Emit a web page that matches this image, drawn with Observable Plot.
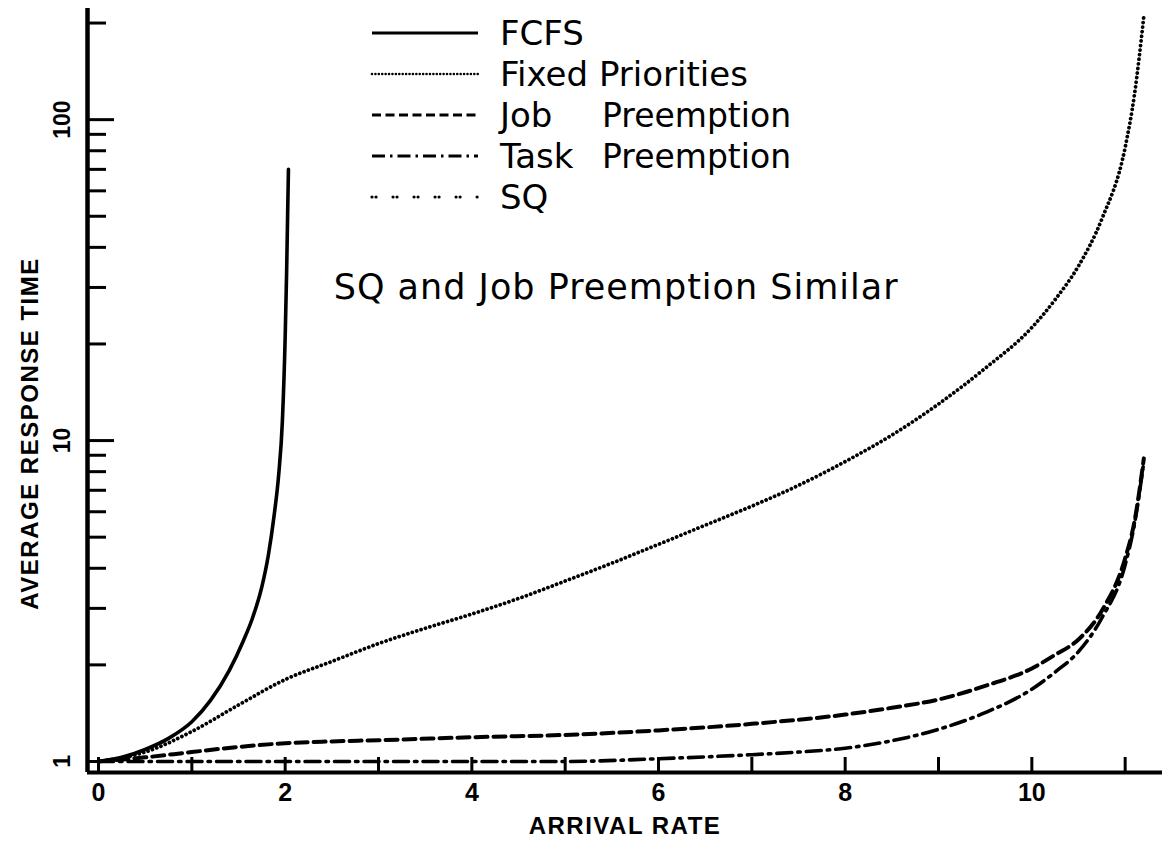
<!DOCTYPE html>
<html><head><meta charset="utf-8">
<script src="https://cdn.jsdelivr.net/npm/d3@7"></script>
<script src="https://cdn.jsdelivr.net/npm/@observablehq/plot@0.6"></script>
<style>
html,body{margin:0;padding:0;background:#fff;}
#wrap{position:relative;width:1170px;height:853px;}
#legend{position:absolute;left:0;top:0;pointer-events:none;}
</style></head><body><div id="wrap"></div>
<script>
// ---- data ----
const fcfsRate = [0, 0.25, 0.5, 0.75, 1.0, 1.2, 1.4, 1.55, 1.65, 1.75, 1.82, 1.88, 1.93, 1.97, 2.0, 2.015, 2.035];
const fcfsResp = [1.0, 1.03, 1.09, 1.18, 1.33, 1.55, 1.92, 2.37, 2.8, 3.5, 4.4, 5.8, 7.8, 11.5, 21, 33, 70];

const fixedRate = [0, 0.5, 1, 1.5, 2, 2.5, 3, 3.5, 4, 4.5, 5, 5.5, 6, 6.5, 7, 7.5, 8, 8.5, 9, 9.5, 10, 10.25, 10.5, 10.75, 11, 11.1, 11.2];
const fixedResp = [1.0, 1.07, 1.24, 1.5, 1.8, 2.05, 2.33, 2.6, 2.88, 3.22, 3.65, 4.15, 4.75, 5.45, 6.25, 7.25, 8.6, 10.4, 13, 16.8, 22.5, 27.5, 35, 49, 82, 120, 210];

const jobRate = [0, 0.5, 1, 1.5, 2, 2.5, 3, 4, 5, 6, 7, 8, 8.5, 9, 9.5, 10, 10.25, 10.5, 10.75, 11, 11.1, 11.2];
const jobResp = [1.0, 1.03, 1.07, 1.11, 1.14, 1.155, 1.165, 1.19, 1.21, 1.25, 1.31, 1.40, 1.47, 1.56, 1.72, 1.95, 2.15, 2.4, 2.95, 4.3, 5.6, 8.8];

const taskRate = [0, 1, 2, 3, 4, 5, 6, 7, 7.5, 8, 8.5, 9, 9.5, 10, 10.25, 10.5, 10.75, 11, 11.1, 11.2];
const taskResp = [1.0, 1.0, 1.0, 1.0, 1.0, 1.0, 1.02, 1.05, 1.07, 1.1, 1.16, 1.26, 1.42, 1.68, 1.9, 2.2, 2.8, 4.1, 5.5, 8.6];

const seriesNames  = ["FCFS", "Fixed Priorities", "Job", "Task", "SQ"];
const seriesSecond = ["", "", "Preemption", "Preemption", ""];

const xTickValues = [0, 1, 2, 3, 4, 5, 6, 7, 8, 9, 10, 11];
const xTickLabels = [0, 2, 4, 6, 8, 10];
const yMajorTicks = [1, 10, 100];
const yMinorTicks = [2, 3, 4, 5, 6, 7, 8, 9, 20, 30, 40, 50, 60, 70, 80, 90, 200];

const xTitle = "ARRIVAL RATE";
const yTitle = "AVERAGE RESPONSE TIME";
const noteText = "SQ and Job Preemption Similar";

// ---- chart ----
const W = 1170, H = 853, mL = 87, mR = 8, mT = 8, mB = 81;
const plotW = W - mL - mR, plotH = H - mT - mB;
const xDomain = [-0.118, 11.4];
const yDomain = [0.924, 222];

const toRows = (xs, ys) => xs.map((x, i) => ({x, y: ys[i]}));

const lineStyles = [
  {strokeWidth: 3.6},
  {strokeWidth: 3.8, strokeDasharray: "0.01 4.6", strokeLinecap: "round"},
  {strokeWidth: 4, strokeDasharray: "12 6"},
  {strokeWidth: 3.6, strokeDasharray: "15 6 2.5 6"}
];
const seriesRows = [toRows(fcfsRate, fcfsResp), toRows(fixedRate, fixedResp), toRows(jobRate, jobResp), toRows(taskRate, taskResp)];

const tickFont = "Liberation Sans, Arial, sans-serif";
const textFont = "DejaVu Sans, sans-serif";

const chart = Plot.plot({
  width: W, height: H,
  marginLeft: mL, marginRight: mR, marginTop: mT, marginBottom: mB,
  x: {domain: xDomain, axis: null},
  y: {type: "log", domain: yDomain, axis: null},
  style: {background: "white", color: "black", fontFamily: textFont, overflow: "visible"},
  marks: [
    Plot.tickX(xTickValues, {x: d => d, insetTop: plotH - 15, stroke: "black", strokeWidth: 3}),
    Plot.tickY(yMajorTicks, {y: d => d, insetRight: plotW - 27, stroke: "black", strokeWidth: 3}),
    Plot.tickY(yMinorTicks, {y: d => d, insetRight: plotW - 19, stroke: "black", strokeWidth: 3}),
    Plot.ruleX([xDomain[0]], {stroke: "black", strokeWidth: 4.5}),
    Plot.ruleY([yDomain[0]], {stroke: "black", strokeWidth: 4}),
    ...seriesRows.map((rows, i) => Plot.line(rows, {x: "x", y: "y", stroke: "black", curve: "monotone-x", ...lineStyles[i]})),
    Plot.text(xTickLabels, {x: d => d, text: d => String(d), frameAnchor: "bottom", dy: 28, fontSize: 25, fontWeight: "bold", fontFamily: tickFont}),
    Plot.text(yMajorTicks, {y: d => d, text: d => String(d), frameAnchor: "left", textAnchor: "middle", dx: -25, rotate: -90, fontSize: 23, fontWeight: "bold", fontFamily: tickFont}),
    Plot.text([xTitle], {text: d => d, frameAnchor: "bottom", dy: 61, fontSize: 24, fontWeight: "bold", fontFamily: tickFont}),
    Plot.text([yTitle], {text: d => d, frameAnchor: "left", textAnchor: "middle", dx: -57, dy: 43, rotate: -90, fontSize: 24, fontWeight: "bold", fontFamily: tickFont}),
    Plot.text([noteText], {x: () => 2.52, y: () => 30, text: d => d, textAnchor: "start", fontSize: 35, fontFamily: textFont})
  ]
});
chart.querySelectorAll("text").forEach(t => {
  const s = t.textContent;
  if (s === xTitle || s === yTitle) t.setAttribute("letter-spacing", "1.5");
  if (s === noteText) t.setAttribute("letter-spacing", "1");
});
document.getElementById("wrap").appendChild(chart);

// ---- legend (overlaid at the top of the plot area) ----
const legendStyles = [
  {w: 2.8, dash: null, cap: "butt"},
  {w: 2.6, dash: "0.01 3.4", cap: "round"},
  {w: 3.2, dash: "9 4.5", cap: "butt"},
  {w: 3.2, dash: "13 5 2.5 5", cap: "butt"},
  {w: 3.2, dash: "0.01 4 0.01 17", cap: "round"}
];
const legendTop = 33, legendStep = 41;
const lg = d3.select("#wrap").append("svg").attr("id", "legend").attr("width", W).attr("height", H);
seriesNames.forEach((name, i) => {
  const y = legendTop + i * legendStep;
  const st = legendStyles[i];
  const ln = lg.append("line").attr("x1", 372).attr("x2", 478).attr("y1", y).attr("y2", y)
    .attr("stroke", "black").attr("stroke-width", st.w).attr("stroke-linecap", st.cap);
  if (st.dash) ln.attr("stroke-dasharray", st.dash);
  lg.append("text").attr("x", 500).attr("y", y).attr("dy", "0.36em")
    .attr("font-family", textFont).attr("font-size", 34).text(name);
  if (seriesSecond[i]) {
    lg.append("text").attr("x", 602).attr("y", y).attr("dy", "0.36em")
      .attr("font-family", textFont).attr("font-size", 33).text(seriesSecond[i]);
  }
});
</script></body></html>
